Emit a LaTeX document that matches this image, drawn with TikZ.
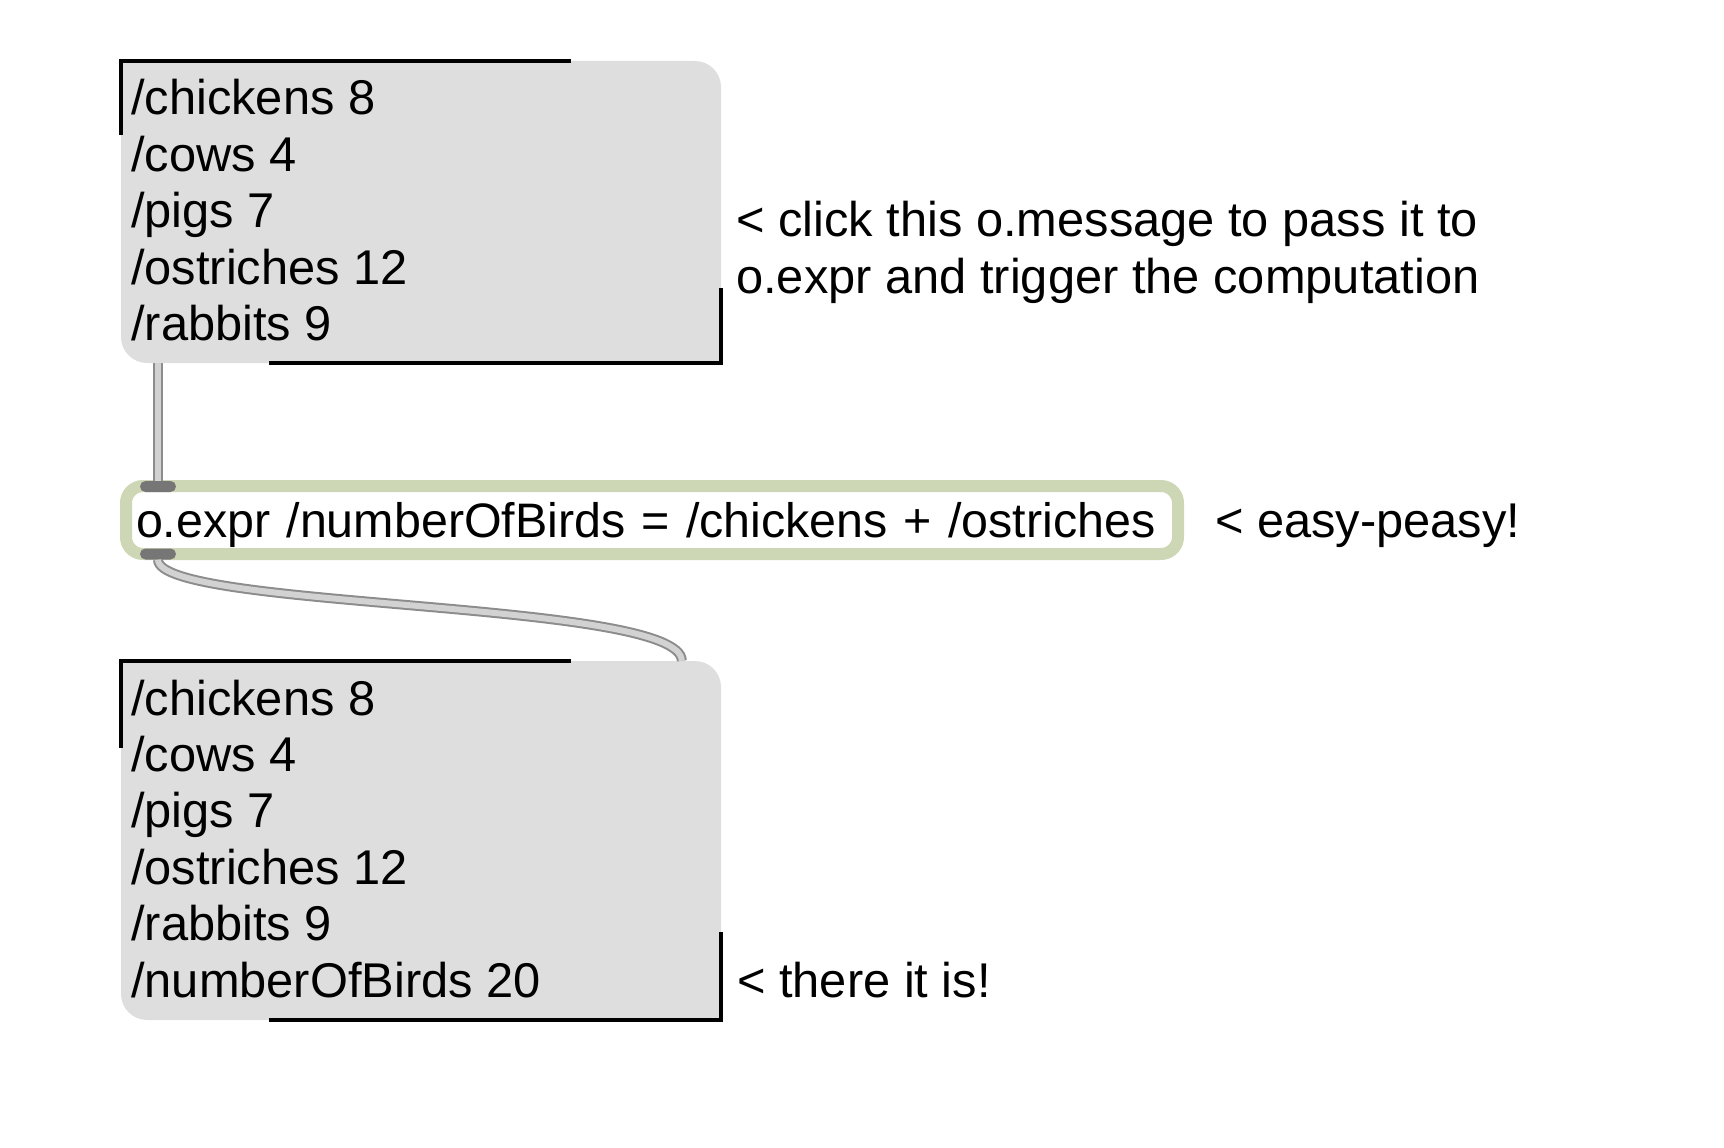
\documentclass[tikz,border=0pt]{standalone}
\usepackage{fontspec}
\setmainfont{Liberation Sans}
\definecolor{msggray}{HTML}{DEDEDE}
\definecolor{exprgreen}{HTML}{CDD6B5}
\definecolor{inletgray}{HTML}{767676}
\definecolor{cordedge}{HTML}{8C8C8C}
\definecolor{cordfill}{HTML}{D2D2D2}
\begin{document}
\begin{tikzpicture}[x=1pt,y=-1pt,
    font=\fontsize{48.8}{56.4}\selectfont,
    msgbox/.style={fill=msggray,rounded corners=26pt,minimum width=600pt,inner sep=0pt},
    msgline/.style={line width=3.6pt},
    msgtext/.style={anchor=base west,align=left,inner sep=0pt},
    exprbox/.style={draw=exprgreen,fill=white,line width=12pt,rounded corners=17pt,minimum width=1052pt,minimum height=68pt,inner sep=0pt,text width=1032pt,align=left,text height=40pt,text depth=6pt,font=\fontsize{48.4}{56.4}\selectfont},
    inletbar/.style={fill=inletgray,rounded corners=5.5pt,minimum width=36pt,minimum height=11pt,inner sep=0pt},
    cord/.style={draw=cordedge,line width=2pt,double=cordfill,double distance=6pt},
    note/.style={anchor=base west,align=left,inner sep=0pt}]
        \useasboundingbox (0,0) rectangle (1724,1148);

        \node (msgin) at (421,212) [msgbox,minimum height=302pt] {};
        \fill[msggray] (msgin.north west) rectangle ++(30,30);
        \fill[msggray] (msgin.south east) rectangle ++(-30,-30);
        \draw[msgline] ([shift={(0,74)}]msgin.north west) -- (msgin.north west) -- ++(450,0);
        \draw[msgline] ([shift={(0,-75)}]msgin.south east) -- (msgin.south east) -- ++(-452,0);
        % base anchor = last line
        \node (msgintxt) at (131,340.5) [msgtext] {/chickens 8\\/cows 4\\/pigs 7\\/ostriches 12\\/rabbits 9};

        \node (expr) at (652,520) [exprbox] {o.expr /numberOfBirds = /chickens + /ostriches};
        \node (exprin) at (158,486.5) [inletbar] {};
        \node (exprout) at (158,554) [inletbar] {};

        \node (msgout) at (421,840.5) [msgbox,minimum height=359pt] {};
        \fill[msggray] (msgout.north west) rectangle ++(30,30);
        \fill[msggray] (msgout.south east) rectangle ++(-30,-30);
        \draw[msgline] ([shift={(0,87)}]msgout.north west) -- (msgout.north west) -- ++(450,0);
        \draw[msgline] ([shift={(0,-88)}]msgout.south east) -- (msgout.south east) -- ++(-452,0);
        \node (msgouttxt) at (131,997) [msgtext] {/chickens 8\\/cows 4\\/pigs 7\\/ostriches 12\\/rabbits 9\\/numberOfBirds 20};

        \node (clicknote) at (736,293) [note] {< click this o.message to pass it to\\o.expr and trigger the computation};
        \node (easynote) at (1215,537) [note] {< easy-peasy!};
        \node (therenote) at (737,997.5) [note] {< there it is!};

        \draw[cord] (msgin.south -| exprin) -- (exprin.north);
        \draw[cord] (exprout.south) .. controls +(0,50) and +(0,-61) .. ([xshift=561pt]msgout.north west);
    \end{tikzpicture}
\end{document}
